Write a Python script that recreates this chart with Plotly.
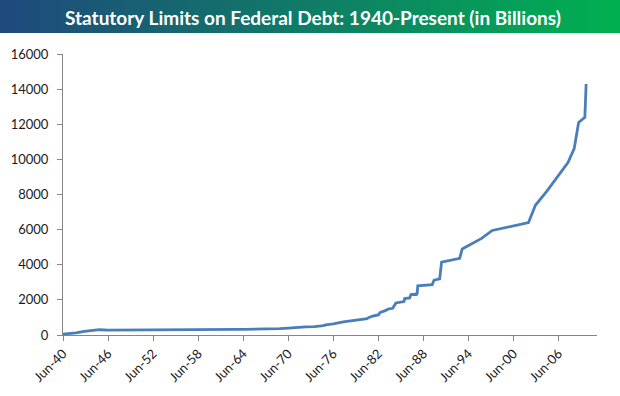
import plotly.graph_objects as go

# Statutory debt limit (billions of dollars) at change dates
dates = [
    "1940-06-01", "1941-02-01", "1942-03-01", "1943-04-01", "1944-06-01", "1945-04-01",
    "1946-06-01", "1954-08-01", "1955-06-01", "1956-07-01", "1957-07-01", "1958-02-01",
    "1958-09-01", "1959-06-01", "1960-06-01", "1961-06-01", "1962-07-01", "1963-05-01",
    "1963-08-01", "1964-06-01", "1965-06-01", "1966-06-01", "1967-03-01", "1967-06-01",
    "1969-04-01", "1970-06-01", "1971-03-01", "1972-03-01", "1972-10-01", "1973-12-01",
    "1974-06-01", "1975-02-01", "1975-06-01", "1975-11-01", "1976-03-01", "1976-06-01",
    "1977-10-01", "1978-08-01", "1979-04-01", "1979-09-01", "1980-06-01", "1980-12-01",
    "1981-02-01", "1981-09-01", "1982-06-01", "1982-09-01", "1983-05-01", "1983-11-01",
    "1984-05-01", "1984-06-01", "1984-10-01", "1985-11-01", "1985-12-01", "1986-08-01",
    "1986-10-01", "1987-05-01", "1987-07-01", "1987-08-01", "1987-09-01", "1989-08-01",
    "1989-11-01", "1990-08-01", "1990-11-01", "1993-04-01", "1993-08-01", "1996-03-01",
    "1997-08-01", "2002-06-01", "2003-05-01", "2004-11-01", "2006-03-01", "2007-09-01",
    "2008-07-01", "2008-10-01", "2009-02-01", "2009-12-01", "2010-02-01",
]
limits = [
    49, 65, 125, 210, 260, 300,
    275, 281, 281, 278, 275, 280,
    288, 295, 293, 298, 308, 309,
    315, 324, 328, 330, 336, 358,
    365, 395, 430, 450, 465, 476,
    495, 531, 577, 595, 627, 636,
    752, 798, 830, 879, 925, 935,
    985, 1080, 1143, 1290, 1389, 1490,
    1520, 1573, 1824, 1904, 2079, 2111,
    2300, 2320, 2310, 2352, 2800, 2870,
    3123, 3195, 4145, 4370, 4900, 5500,
    5950, 6400, 7384, 8184, 8965, 9815,
    10615, 11315, 12104, 12394, 14294,
]

tick_dates = ["1940-06-01", "1946-06-01", "1952-06-01", "1958-06-01", "1964-06-01",
              "1970-06-01", "1976-06-01", "1982-06-01", "1988-06-01", "1994-06-01",
              "2000-06-01", "2006-06-01"]
tick_labels = ["Jun-40", "Jun-46", "Jun-52", "Jun-58", "Jun-64", "Jun-70",
               "Jun-76", "Jun-82", "Jun-88", "Jun-94", "Jun-00", "Jun-06"]
y_ticks = [0, 2000, 4000, 6000, 8000, 10000, 12000, 14000, 16000]
y_tick_labels = [str(v) for v in y_ticks]

title_text = "Statutory Limits on Federal Debt: 1940-Present (in Billions)"

W, H = 620, 396
L, R, T, B = 63, 23, 54, 61
pw = W - L - R
ph = H - T - B


def px_x(px):
    return (px - L) / pw


def px_y(py):
    return (H - B - py) / ph


fig = go.Figure()
fig.add_trace(go.Scatter(
    x=dates, y=limits, mode="lines",
    line=dict(color="#4a7ebb", width=2.8),
    showlegend=False, hoverinfo="x+y",
))

# gradient banner
shapes = []
n = 124
c0 = (31, 73, 125)
c1 = (0, 176, 80)
for i in range(n):
    t = i / (n - 1)
    col = tuple(round(c0[k] + (c1[k] - c0[k]) * t) for k in range(3))
    shapes.append(dict(
        type="rect", xref="paper", yref="paper",
        x0=px_x(W * i / n), x1=px_x(W * (i + 1) / n + 1), y0=px_y(33), y1=px_y(0),
        fillcolor="rgb(%d,%d,%d)" % col, line=dict(width=0), layer="below",
    ))

fig.update_layout(
    width=W, height=H,
    margin=dict(l=L, r=R, t=T, b=B, pad=0),
    paper_bgcolor="white", plot_bgcolor="white",
    shapes=shapes,
    annotations=[dict(
        text="<b>" + title_text + "</b>", x=px_x(313), y=px_y(17),
        xref="paper", yref="paper", xanchor="center", yanchor="middle",
        showarrow=False, font=dict(family="Lato, Open Sans, sans-serif", size=19, color="white"),
    )],
    font=dict(family="Lato, Open Sans, sans-serif", size=13, color="#1a1a1a"),
    xaxis=dict(
        type="date", range=["1940-06-01", "2011-07-15"],
        tickvals=tick_dates, ticktext=tick_labels, tickangle=-45,
        showgrid=False, zeroline=False,
        showline=True, linecolor="#868686", linewidth=1,
        ticks="outside", ticklen=5, tickcolor="#868686", tickwidth=1,
        tickfont=dict(size=13, color="#1a1a1a"),
    ),
    yaxis=dict(
        range=[0, 16000], tickvals=y_ticks, ticktext=y_tick_labels,
        showgrid=False, zeroline=False,
        showline=True, linecolor="#868686", linewidth=1,
        ticks="outside", ticklen=5, tickcolor="#868686", tickwidth=1,
        tickfont=dict(size=13, color="#1a1a1a"), ticklabelstandoff=6,
    ),
)

fig.write_html("out.html", config={"displayModeBar": False},
               post_script="document.body.style.margin='0';")
